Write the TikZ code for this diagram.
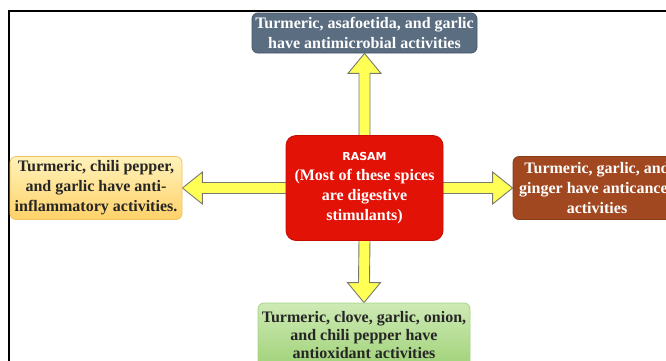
\documentclass[tikz,border=0pt]{standalone}
\usepackage{fontspec}
\setmainfont{Liberation Serif}
\newfontfamily\rasamfont{DejaVu Sans}
\usetikzlibrary{calc,backgrounds}
\definecolor{slatebox}{RGB}{90,109,129}
\definecolor{slateedge}{RGB}{70,86,102}
\definecolor{redbox}{RGB}{226,18,6}
\definecolor{rededge}{RGB}{200,10,0}
\definecolor{brownbox}{RGB}{161,72,32}
\definecolor{brownedge}{RGB}{140,60,25}
\definecolor{yeltop}{RGB}{255,242,186}
\definecolor{yelbot}{RGB}{255,210,105}
\definecolor{yeledge}{RGB}{240,196,92}
\definecolor{grntop}{RGB}{206,234,181}
\definecolor{grnbot}{RGB}{160,210,120}
\definecolor{grnedge}{RGB}{165,212,135}
\definecolor{arrowyellow}{RGB}{255,255,85}
\definecolor{arrowgray}{RGB}{120,120,110}
\begin{document}
\begin{tikzpicture}[x=1pt,y=-1pt,
  box/.style={rounded corners=6pt, align=center, inner sep=0pt, line width=0.8pt,
    font=\fontsize{16}{20}\selectfont\bfseries},
  barrow/.style={fill=arrowyellow, draw=arrowgray, line width=0.9pt, line join=miter}
]
\useasboundingbox (0,0) rectangle (666,360);
\clip (0,0) rectangle (666,360);
\draw[line width=1.3pt] (9,361) -- (9,11) -- (667,11);

\node[box, fill=slatebox, draw=slateedge, text=white, minimum width=225pt, minimum height=40pt] (t) at (364.5,33)
  {Turmeric, asafoetida, and garlic\\have antimicrobial activities};
\node[box, rounded corners=10pt, fill=redbox, draw=rededge, text=white, minimum width=157pt, minimum height=105pt] (c) at (364.5,188)
  {{\rasamfont\fontsize{11}{12}\selectfont RASAM}\\(Most of these spices\\are digestive\\stimulants)};
\node[box, top color=yeltop, bottom color=yelbot, draw=yeledge, text=black!85, minimum width=172pt, minimum height=63pt] (l) at (96,188)
  {Turmeric, chili pepper,\\and garlic have anti-\\inflammatory activities.};
\node[box, fill=brownbox, draw=brownedge, text=white, minimum width=168pt, minimum height=63pt] (r) at (597,188)
  {Turmeric, garlic, and\\ginger have anticancer\\activities};
\node[box, font=\fontsize{16}{18}\selectfont\bfseries, top color=grntop, bottom color=grnbot, draw=grnedge, text=black!85, minimum width=212pt, minimum height=64pt] (b) at (364,335)
  {Turmeric, clove, garlic, onion,\\and chili pepper have\\antioxidant activities};

\begin{scope}[on background layer]
\draw[barrow] ($(c.north)+(-5.5,2)$) -- ($(t.south)+(-5.5,20)$) -- ($(t.south)+(-16.5,20)$) -- (t.south)
  -- ($(t.south)+(16.5,20)$) -- ($(t.south)+(5.5,20)$) -- ($(c.north)+(5.5,2)$) -- cycle;
\draw[barrow] ($(c.south)+(-5.5,-2)$) -- ($(b.north)+(-5.5,-20)$) -- ($(b.north)+(-16.5,-20)$) -- (b.north)
  -- ($(b.north)+(16.5,-20)$) -- ($(b.north)+(5.5,-20)$) -- ($(c.south)+(5.5,-2)$) -- cycle;
\draw[barrow] ($(c.west)+(2,-5.5)$) -- ($(l.east)+(20,-5.5)$) -- ($(l.east)+(20,-16)$) -- (l.east)
  -- ($(l.east)+(20,16)$) -- ($(l.east)+(20,5.5)$) -- ($(c.west)+(2,5.5)$) -- cycle;
\draw[barrow] ($(c.east)+(-2,-5.5)$) -- ($(r.west)+(-20,-5.5)$) -- ($(r.west)+(-20,-16)$) -- (r.west)
  -- ($(r.west)+(-20,16)$) -- ($(r.west)+(-20,5.5)$) -- ($(c.east)+(-2,5.5)$) -- cycle;
\end{scope}
\end{tikzpicture}
\end{document}
